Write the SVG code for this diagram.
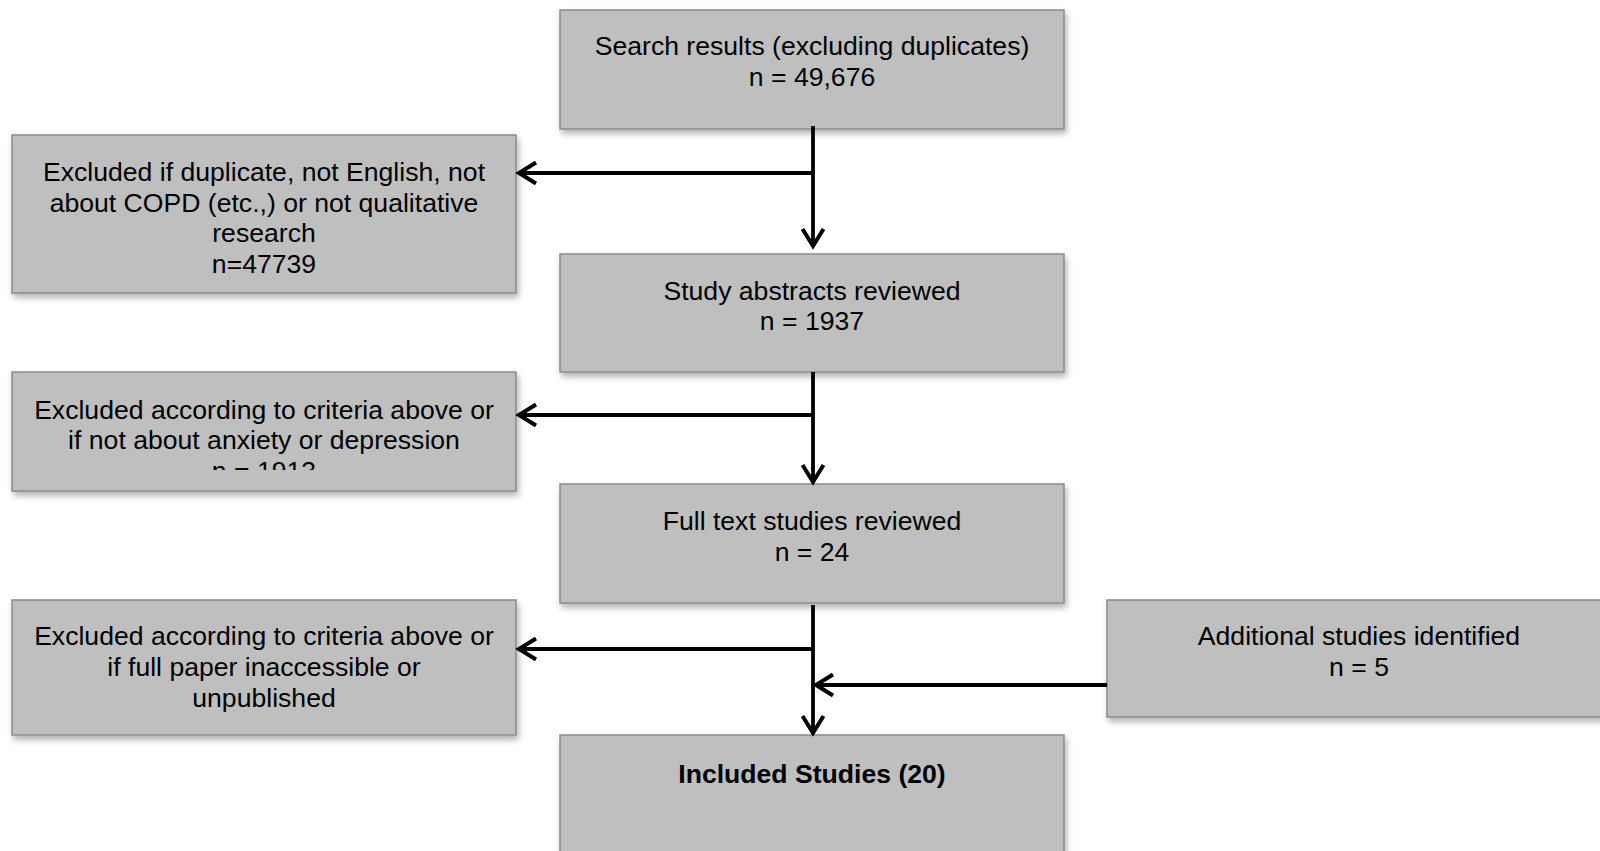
<svg xmlns="http://www.w3.org/2000/svg" width="1600" height="851" viewBox="0 0 1600 851">
<style>
.box{fill:#bfbfbf;stroke:#8a8a8a;stroke-width:1.5;filter:url(#sh)}
.t{font-family:"Liberation Sans",Arial,sans-serif;font-size:26.6px;fill:#000;text-anchor:middle}
.b{font-weight:bold}
.c{fill:none;stroke:#000;stroke-width:3.8;marker-end:url(#arr)}
</style>
<defs>
<filter id="sh" x="-10%" y="-10%" width="130%" height="140%">
<feDropShadow dx="2" dy="4" stdDeviation="3" flood-color="#000" flood-opacity="0.3"/>
</filter>
<marker id="arr" markerUnits="userSpaceOnUse" viewBox="-24 -14 28 28" refX="0" refY="0" markerWidth="28" markerHeight="28" orient="auto" overflow="visible">
<path d="M-18,-10.5 L-1,0 L-18,10.5" fill="none" stroke="#000" stroke-width="4"/>
</marker>
<clipPath id="clipL2"><rect x="12" y="372" width="504" height="98"/></clipPath>
</defs>
<g id="n1"><rect class="box" x="560" y="10" width="504" height="119"/>
<text class="t" x="812" y="55">Search results (excluding duplicates)</text>
<text class="t" x="812" y="85.6">n = 49,676</text></g>
<g id="n2"><rect class="box" x="12" y="135" width="504" height="158"/>
<text class="t" x="264" y="181">Excluded if duplicate, not English, not</text>
<text class="t" x="264" y="211.6">about COPD (etc.,) or not qualitative</text>
<text class="t" x="264" y="242.2">research</text>
<text class="t" x="264" y="272.8">n=47739</text></g>
<g id="n3"><rect class="box" x="560" y="254" width="504" height="118"/>
<text class="t" x="812" y="299.5">Study abstracts reviewed</text>
<text class="t" x="812" y="330.1">n = 1937</text></g>
<g id="n4"><rect class="box" x="12" y="372" width="504" height="119"/>
<g clip-path="url(#clipL2)">
<text class="t" x="264" y="418.5">Excluded according to criteria above or</text>
<text class="t" x="264" y="449.1">if not about anxiety or depression</text>
<text class="t" x="264" y="479.7">n = 1913</text></g></g>
<g id="n5"><rect class="box" x="560" y="484" width="504" height="119"/>
<text class="t" x="812" y="530">Full text studies reviewed</text>
<text class="t" x="812" y="560.6">n = 24</text></g>
<g id="n6"><rect class="box" x="12" y="600" width="504" height="135"/>
<text class="t" x="264" y="645.3">Excluded according to criteria above or</text>
<text class="t" x="264" y="675.9">if full paper inaccessible or</text>
<text class="t" x="264" y="706.5">unpublished</text></g>
<g id="n7"><rect class="box" x="1107" y="600" width="510" height="117"/>
<text class="t" x="1359" y="645.3">Additional studies identified</text>
<text class="t" x="1359" y="675.9">n = 5</text></g>
<g id="n8"><rect class="box" x="560" y="735" width="504" height="140"/>
<text class="t b" x="812" y="783">Included Studies (20)</text></g>
<g id="connectors">
<line class="c" x1="813" y1="126" x2="813" y2="247"/>
<path class="c" d="M813,173 H518"/>
<line class="c" x1="813" y1="372" x2="813" y2="483"/>
<path class="c" d="M813,415 H518"/>
<line class="c" x1="813" y1="605" x2="813" y2="734"/>
<path class="c" d="M813,649 H518"/>
<path class="c" d="M1107,685 H815"/>
</g>
</svg>
